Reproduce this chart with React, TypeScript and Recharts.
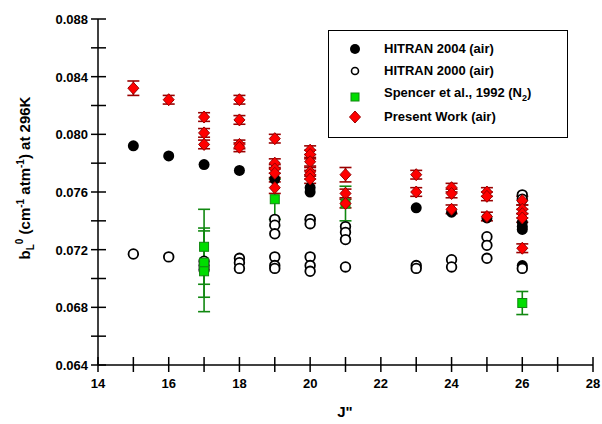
import { ScatterChart, Scatter, XAxis, YAxis, ErrorBar } from "recharts";

const hitran2004J = [15, 16, 17, 18, 19, 20, 20, 20, 23, 24, 25, 26, 26, 26, 26];
const hitran2004B = [0.0792, 0.0785, 0.0779, 0.0775, 0.0769, 0.0763, 0.076, 0.0741, 0.0749, 0.0746, 0.0742, 0.0739, 0.0736, 0.0734, 0.0709];

const hitran2000J = [15, 16, 17, 17, 17, 18, 18, 18, 19, 19, 19, 19, 19, 19, 20, 20, 20, 20, 20, 21, 21, 21, 21, 23, 23, 24, 24, 25, 25, 25, 26, 26, 26];
const hitran2000B = [
  0.0717, 0.0715, 0.0712, 0.0709, 0.0706, 0.0714, 0.0711, 0.0707, 0.0741, 0.0737, 0.0731, 0.0715, 0.0709, 0.0707,
  0.0741, 0.0738, 0.0715, 0.0709, 0.0705, 0.0736, 0.0732, 0.0727, 0.0708, 0.0709, 0.0707, 0.0713, 0.0708,
  0.0729, 0.0723, 0.0714, 0.0758, 0.0755, 0.0707,
];

const spencerJ = [17, 17, 17, 19, 21, 26];
const spencerB = [0.0722, 0.0711, 0.0705, 0.0755, 0.0752, 0.0683];
const spencerErr = [0.0026, 0.0024, 0.0028, 0.0014, 0.0012, 0.0008];

const presentJ = [15, 16, 17, 17, 17, 18, 18, 18, 18, 19, 19, 19, 19, 19, 20, 20, 20, 20, 20, 20, 21, 21, 21, 23, 23, 24, 24, 24, 25, 25, 25, 26, 26, 26, 26, 26];
const presentB = [
  0.0832, 0.0824, 0.0812, 0.0801, 0.0793, 0.0824, 0.081, 0.0793, 0.0791, 0.0797, 0.078, 0.0776, 0.0773, 0.0763,
  0.0789, 0.0786, 0.0781, 0.0774, 0.0772, 0.0769, 0.0772, 0.0759, 0.0752, 0.0772, 0.076, 0.0763, 0.0759, 0.0748,
  0.076, 0.0757, 0.0743, 0.0754, 0.0748, 0.0745, 0.0742, 0.0721,
];
const presentErr = [
  0.0005, 0.0003, 0.0003, 0.0003, 0.0003, 0.0003, 0.0003, 0.0003, 0.0003, 0.0003, 0.0003, 0.0003, 0.0003, 0.0004,
  0.0003, 0.0003, 0.0003, 0.0003, 0.0003, 0.0003, 0.0005, 0.0003, 0.0003, 0.0003, 0.0003, 0.0003, 0.0003, 0.0003,
  0.0003, 0.0003, 0.0003, 0.0003, 0.0003, 0.0003, 0.0003, 0.0003,
];

const xTicks = [14, 15, 16, 17, 18, 19, 20, 21, 22, 23, 24, 25, 26, 27, 28];
const yTicks = [0.064, 0.066, 0.068, 0.07, 0.072, 0.074, 0.076, 0.078, 0.08, 0.082, 0.084, 0.086, 0.088];

const hitran2004 = hitran2004J.map((j, i) => ({ j, b: hitran2004B[i] }));
const hitran2000 = hitran2000J.map((j, i) => ({ j, b: hitran2000B[i] }));
const spencer = spencerJ.map((j, i) => ({ j, b: spencerB[i], err: spencerErr[i] }));
const present = presentJ.map((j, i) => ({ j, b: presentB[i], err: presentErr[i] }));

const FONT = "'Liberation Sans', Arial, sans-serif";

const FilledDot = (p: any) => <circle cx={p.cx} cy={p.cy} r={5.5} fill="#000" />;
const OpenDot = (p: any) => <circle cx={p.cx} cy={p.cy} r={4.8} fill="#fff" stroke="#000" strokeWidth={1.8} />;
const GreenSquare = (p: any) => (
  <rect x={p.cx - 4.5} y={p.cy - 4.5} width={9} height={9} fill="#00dd00" stroke="#118811" strokeWidth={1} />
);
const RedDiamond = (p: any) => (
  <polygon
    points={`${p.cx},${p.cy - 6} ${p.cx + 5.5},${p.cy} ${p.cx},${p.cy + 6} ${p.cx - 5.5},${p.cy}`}
    fill="#ff0000"
    stroke="#990000"
    strokeWidth={1}
  />
);

const YTick = (p: any) => {
  const v = p.payload.value;
  const major = Math.round(v * 1000) % 4 === 0;
  return (
    <g>
      <line x1={p.x - 7} x2={p.x + 8} y1={p.y} y2={p.y} stroke="#000" strokeWidth={1.5} />
      {major && (
        <text x={p.x - 10} y={p.y} dy={5} textAnchor="end" fontFamily={FONT} fontWeight="bold" fontSize={13} fill="#000">
          {v.toFixed(3)}
        </text>
      )}
    </g>
  );
};

const XTick = (p: any) => {
  const v = p.payload.value;
  const major = v % 2 === 0;
  return (
    <g>
      <line x1={p.x} x2={p.x} y1={p.y - 8} y2={p.y + 7} stroke="#000" strokeWidth={1.5} />
      {major && (
        <text x={p.x} y={p.y} dy={23} textAnchor="middle" fontFamily={FONT} fontWeight="bold" fontSize={13} fill="#000">
          {v}
        </text>
      )}
    </g>
  );
};

const YLabel = () => (
  <text
    transform="translate(30,178) rotate(-90)"
    textAnchor="middle"
    fontFamily={FONT}
    fontWeight="bold"
    fontSize={15}
    fill="#000"
  >
    <tspan>b</tspan>
    <tspan fontSize={10} dy={4}>L</tspan>
    <tspan fontSize={10} dy={-11}>0</tspan>
    <tspan dy={7}> (cm</tspan>
    <tspan fontSize={10} dy={-6}>-1</tspan>
    <tspan dy={6}> atm</tspan>
    <tspan fontSize={10} dy={-6}>-1</tspan>
    <tspan dy={6}>) at 296K</tspan>
  </text>
);

const XLabel = () => (
  <text x={345} y={417} textAnchor="middle" fontFamily={FONT} fontWeight="bold" fontSize={15} fill="#000">
    J"
  </text>
);

const legendRows = [
  { name: "HITRAN 2004 (air)", top: 40, marker: <circle cx={8} cy={8} r={5} fill="#000" /> },
  { name: "HITRAN 2000 (air)", top: 62, marker: <circle cx={8} cy={8} r={3.5} fill="#fff" stroke="#000" strokeWidth={1.6} /> },
  {
    name: "Spencer et al., 1992 (N",
    sub: "2",
    top: 84,
    marker: <rect x={4} y={6} width={8} height={8} fill="#00dd00" stroke="#118811" />,
  },
  { name: "Present Work (air)", top: 108, marker: <polygon points="8,2 13.5,8 8,14 2.5,8" fill="#ff0000" stroke="#990000" /> },
];

function Legend() {
  return (
    <div
      style={{
        position: "absolute",
        left: 328,
        top: 30,
        width: 240,
        height: 108,
        border: "1px solid #000",
        boxSizing: "border-box",
        background: "#fff",
      }}
    >
      {legendRows.map((r) => (
        <div key={r.name} style={{ position: "absolute", left: 18, top: r.top - 30, display: "flex", alignItems: "center" }}>
          <svg width={16} height={16} style={{ display: "block" }}>
            {r.marker}
          </svg>
          <span
            style={{
              marginLeft: 21,
              fontFamily: FONT,
              fontWeight: "bold",
              fontSize: 13,
              whiteSpace: "nowrap",
              lineHeight: "16px",
            }}
          >
            {r.name}
            {r.sub && (
              <>
                <sub style={{ fontSize: 9 }}>{r.sub}</sub>)
              </>
            )}
          </span>
        </div>
      ))}
    </div>
  );
}

export default function App() {
  return (
    <div style={{ position: "absolute", left: 0, top: 0, width: 602, height: 424, background: "#fff" }}>
      <ScatterChart width={602} height={424} margin={{ top: 19, right: 9, bottom: 0, left: 0 }}>
        <XAxis
          type="number"
          dataKey="j"
          domain={[14, 28]}
          ticks={xTicks}
          interval={0}
          height={59}
          axisLine={{ stroke: "#000", strokeWidth: 1.5 }}
          tickLine={false}
          tickSize={0}
          tickMargin={0}
          tick={<XTick />}
          label={{ content: () => <XLabel /> }}
        />
        <XAxis xAxisId="top" orientation="top" type="number" domain={[14, 28]} height={0} tick={false} axisLine={{ stroke: "#888" }} />
        <YAxis
          type="number"
          dataKey="b"
          domain={[0.064, 0.088]}
          ticks={yTicks}
          interval={0}
          width={98}
          axisLine={{ stroke: "#000", strokeWidth: 1.5 }}
          tickLine={false}
          tickSize={0}
          tickMargin={0}
          tick={<YTick />}
          label={{ content: () => <YLabel /> }}
        />
        <YAxis yAxisId="right" orientation="right" type="number" domain={[0.064, 0.088]} width={0} tick={false} axisLine={{ stroke: "#888" }} />
        <Scatter name="HITRAN 2004 (air)" data={hitran2004} shape={<FilledDot />} isAnimationActive={false} />
        <Scatter name="HITRAN 2000 (air)" data={hitran2000} shape={<OpenDot />} isAnimationActive={false} />
        <Scatter name="Spencer et al., 1992" data={spencer} shape={<GreenSquare />} isAnimationActive={false}>
          <ErrorBar dataKey="err" direction="y" width={6} stroke="#118811" strokeWidth={1.6} isAnimationActive={false} />
        </Scatter>
        <Scatter name="Present Work (air)" data={present} shape={<RedDiamond />} isAnimationActive={false}>
          <ErrorBar dataKey="err" direction="y" width={6} stroke="#990000" strokeWidth={1.6} isAnimationActive={false} />
        </Scatter>
      </ScatterChart>
      <Legend />
    </div>
  );
}
